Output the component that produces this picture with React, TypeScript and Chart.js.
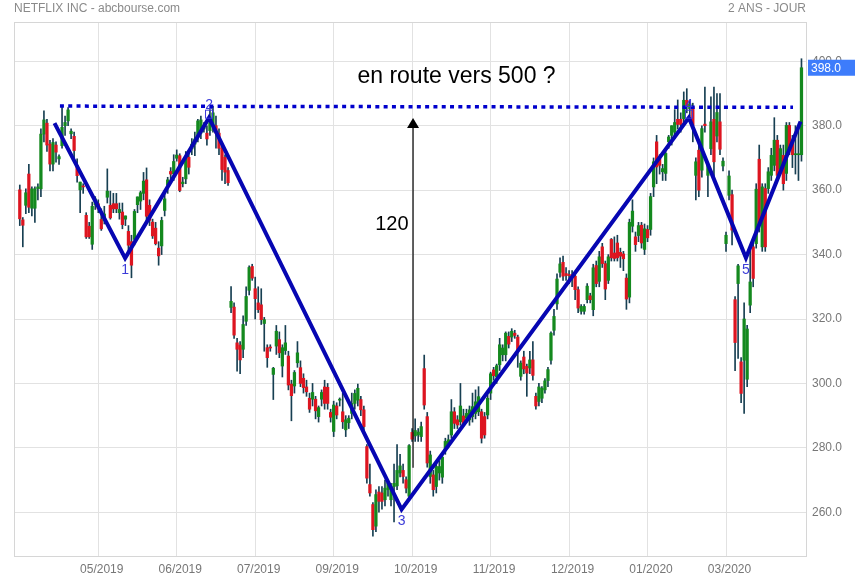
import React, { useEffect, useRef } from 'react';
import { Chart, registerables } from 'chart.js';

Chart.register(...registerables);

// ---- Daily OHLC ----
const opens = [
  360.1, 350.8, 355.3, 365, 354.4, 354.4, 360.5, 360.4, 377.4, 380.8, 374.3, 368.1, 374, 369.7, 373.8, 380, 381.5, 377.5, 376.7, 367.6,
  360.1, 361.2, 352.2, 348.8, 343.2, 355.5, 355.8, 350.9, 350.5, 357.8, 355.3, 355.8, 355.8, 353, 353.2, 351, 347.2, 344, 344.7, 355.5,
  356.6, 359, 363.2, 355.3, 350.1, 348.2, 342, 342.7, 353.7, 361.5, 365.8, 365.1, 369.9, 370.7, 362, 363.5, 370.2, 372.8, 374.3, 376.4,
  377.7, 379, 377.7, 378.5, 380, 380, 377.7, 373, 370.2, 366.1, 323.6, 323.7, 312.6, 311.9, 310.6, 319.3, 328.9, 336.3, 329.4, 325,
  324.4, 318.6, 311.1, 311.2, 302.8, 311.6, 313.6, 305.4, 310.2, 308.5, 299.8, 299.2, 306.4, 304.9, 301.6, 298.9, 295.4, 295.1, 295.1, 289.7,
  295.1, 298.9, 298.8, 291, 285.1, 293, 294.8, 291.2, 285.6, 287.8, 290.7, 293.8, 294.8, 295, 291.8, 280.4, 268.6, 262.4, 255.7, 266.3,
  266, 263.9, 267, 263.9, 268, 268.2, 272.2, 273, 270.1, 265, 284.8, 283.7, 284, 283.5, 304.6, 289.7, 271.1, 271.6, 268, 272.2,
  270.9, 279.4, 281, 284, 291.2, 288.7, 288.1, 289.9, 289.2, 288.7, 289.7, 290.7, 291.2, 291.2, 289.7, 290.2, 297, 304.2, 302, 305.8,
  308.9, 308.9, 314.6, 314.4, 315.6, 314.4, 302.2, 308.2, 305.3, 304.8, 307.3, 296, 294.4, 295.4, 298, 300.9, 307.2, 316.5, 324.7, 334.5,
  337.6, 334.1, 333.8, 333.6, 333.3, 329.1, 322.4, 322.4, 326, 327.2, 322.9, 336.6, 331.7, 342.4, 337.2, 332, 344.7, 340.5, 343.6, 340.7,
  340.2, 332.7, 326.8, 348.8, 345.5, 345.9, 349.1, 341.6, 347.8, 347.8, 361, 375, 369.8, 365.7, 365.2, 375, 377, 378, 382, 382,
  382.2, 387.9, 385.3, 385.8, 364.6, 372.4, 366.2, 380.5, 364.6, 372.9, 382, 376.8, 381.2, 367.5, 343.4, 358.4, 358.6, 326, 331, 306.7,
  307.2, 301.3, 324.3, 342.4, 343.4, 369.6, 342.4, 360.5, 360.5, 364.6, 367.7, 375.5, 366.7, 370.8, 365.2, 380.1, 375.5, 371, 371, 371
];
const highs = [
  361.6, 351.5, 360.4, 368, 361, 361, 362, 379, 384.6, 382, 375.5, 376, 375, 371, 385.9, 383, 385.6, 379, 378, 369.7,
  362.5, 362, 353, 350, 356.3, 358, 357, 354.2, 355, 366.6, 359.7, 359, 359, 356, 356, 352, 349, 346, 354, 357,
  359.7, 365.5, 366.9, 357, 351, 350, 344, 351.6, 360, 364, 367, 371, 372.5, 371.3, 364, 372, 372, 376, 378, 382,
  383, 381, 380, 385, 386, 383, 379, 374, 371, 367, 330.1, 325, 314, 313, 321, 330, 336.5, 337, 333, 330,
  329.4, 320.5, 312, 312, 305, 318, 316, 312, 318, 310, 301, 304, 313, 307, 303, 301, 297, 300, 296, 293,
  298, 301, 300, 292, 294.5, 294, 295.5, 297, 290, 290, 297, 298, 299.8, 296, 293, 281, 275, 263, 267, 268,
  268, 270, 270, 269, 275, 281, 278, 275, 271, 281, 286, 289, 286, 288, 308.8, 291, 279, 273, 275, 276,
  278, 283, 284, 295, 292.5, 290, 300, 292, 292, 293, 297, 298, 299, 292, 291, 297, 303.5, 305, 306, 314,
  312, 316, 316, 317, 316.5, 315, 307, 310, 306, 310, 313, 297, 300, 299, 301.5, 305, 316, 323, 334, 339,
  339.5, 336, 335, 335, 334, 330, 324.5, 324.5, 331, 328, 337, 338, 341, 343.5, 338, 340, 345, 345.5, 346, 342,
  341, 334, 351, 357, 347, 350, 350, 349.5, 349, 359, 370, 377, 371, 368, 372, 377, 379, 385, 388, 384,
  390.5, 391.5, 388, 387, 370, 375, 380, 392, 368, 389, 392, 390, 390, 370, 347, 366, 360, 327, 337, 308,
  325, 318, 341, 345, 362, 374, 362, 362, 367, 373, 382.5, 377, 374, 374, 381, 381, 377, 380, 380, 400.8
];
const lows = [
  349, 342.4, 352.7, 353, 352, 350, 357, 358, 375, 372, 366, 366, 368.7, 368, 373, 377, 380, 376, 370, 362.5,
  353, 359, 345, 345, 341.6, 354, 353, 347.5, 349.5, 356, 351, 353, 353, 351, 348, 349, 341, 332.8, 343, 353,
  354, 357, 350, 349, 345, 343, 336.7, 340, 352, 359, 363, 363, 369, 359.5, 361, 362, 365, 371, 370.7, 375,
  376, 378, 374, 377, 378, 373, 371, 363, 362, 361.5, 322, 314, 303.8, 303, 308, 318, 327.5, 332, 320, 322,
  318.3, 310, 305, 310, 295, 309, 308, 302, 309, 298, 288.4, 297, 305, 299, 297, 296, 291, 293, 289, 288,
  293, 292, 292, 288, 283.5, 289, 293, 286, 283.5, 286, 289, 292, 293, 290, 285, 269, 265, 252.6, 254, 260,
  261, 262, 265, 262, 257, 267, 271, 269, 266, 264, 282, 282, 282, 282, 292, 274, 269, 265, 266, 270,
  269, 278, 280, 283, 286, 286, 287, 287, 288, 287, 288, 289, 290, 281.5, 283, 289, 295, 301, 300, 304,
  307, 307, 311, 313, 314, 305, 301, 303, 296, 303, 301, 292, 293, 294, 297, 299, 306, 315, 323, 333,
  332, 332, 331, 330, 326, 322, 321.5, 321.5, 325, 325, 321, 330, 330, 336, 326, 331, 338, 338, 338, 336,
  335, 323, 325, 347, 341, 344, 342, 340, 344, 346, 358, 362, 365, 363, 363, 373, 374, 376, 379, 378,
  381, 384, 383, 375, 357, 358, 364, 378, 358, 371, 363, 375, 371, 366, 341, 357, 343, 304, 307.8, 294,
  290.7, 299, 322, 330, 342, 347, 341, 341, 359, 363, 366, 363, 365, 360, 363, 371, 367, 365, 363, 369
];
const closes = [
  351.1, 349.1, 359.2, 354.7, 360.4, 360.4, 361, 377.4, 381.8, 374, 368.1, 374.8, 371.8, 370.4, 379.5, 381, 384.9, 378.3, 372.3, 364.5,
  362.5, 361, 345.5, 345.5, 355, 357.3, 354.2, 348, 352.6, 359.7, 351.4, 354.2, 354.2, 354, 349.3, 352, 342.9, 336.7, 353.4, 357.9,
  359.2, 362.8, 351.9, 350.6, 345.8, 343.4, 339.6, 350.6, 357.3, 363.2, 365, 368.9, 370.9, 359.9, 362.5, 370.2, 367.1, 374.3, 375.9, 381.5,
  381.8, 380, 375.9, 381, 384, 377.7, 373, 366.4, 365.6, 362.3, 325.5, 315, 310.6, 307.3, 318.3, 327, 336, 332.7, 326.3, 322.9,
  319.8, 319.8, 308, 311, 304.7, 316.2, 309.5, 311.1, 312.6, 299.5, 296.2, 303.4, 309.5, 300, 298.7, 297.4, 292, 297.2, 291.5, 292.5,
  297.2, 293.8, 293.8, 289.5, 293.3, 290.2, 295, 288.1, 288.7, 289.2, 293.8, 296.9, 298.5, 291.8, 286.6, 270.6, 266, 254.6, 265.5, 263.4,
  263.4, 267.5, 269, 268, 269, 273, 274.4, 271.1, 267.5, 280.7, 282.7, 285.4, 284.9, 286.6, 293.3, 275.3, 277.8, 267, 274.2, 274.2,
  277.1, 282, 282.5, 291.2, 287.6, 287.1, 293, 287.6, 290.7, 291.8, 292.8, 294.3, 295.9, 283, 284, 295.4, 303, 302.4, 305.5, 312,
  311, 315.6, 312.2, 316.2, 314.9, 310.5, 306.3, 304.5, 303.2, 307.3, 302.5, 293, 298.9, 298.5, 300.8, 304.3, 315.6, 320.8, 332.4, 337.1,
  333.3, 333.5, 333.5, 333.4, 329.1, 323.4, 323.9, 323.9, 330.2, 326, 335.9, 331, 339.3, 337.2, 329.3, 339.3, 339, 338.8, 339, 339.5,
  338.7, 326.2, 350, 353.5, 343.1, 349, 343.6, 348, 345.2, 358, 368.8, 367.2, 367.7, 366.7, 371.4, 376.5, 380, 381, 380.4, 380.4,
  387.9, 386.3, 386.8, 380.1, 368.8, 360, 379.1, 380, 367.7, 381.2, 368.8, 384.1, 372.7, 369, 346, 364.4, 347.6, 312.7, 336.5, 296.9,
  320, 316.9, 331.5, 332.6, 360.3, 349.6, 361, 342.4, 365.7, 370.8, 375.5, 364.6, 372.9, 362, 380.1, 372.4, 371, 371.2, 371.3, 398.0
];

// ---- Axis ticks ----
const xTickIndex = [26, 52, 78, 104, 130, 156, 182, 208, 234];
const xTickLabels = ['05/2019', '06/2019', '07/2019', '09/2019', '10/2019', '11/2019', '12/2019', '01/2020', '03/2020'];
const priceTicks = [260, 280, 300, 320, 340, 360, 380, 400];

// ---- Zigzag wave (pivot index, price) ----
const pivotIndex = [11.5, 34.9, 62.7, 126.5, 221.7, 240.6, 258.7];
const pivotPrice = [380.8, 338.9, 382.5, 260.9, 382.5, 339.0, 381.3];
const pivotLabels = ['', '1', '2', '3', '4', '5', ''];

// ---- Resistance (dotted) ----
const resistIndex = [13.3, 256.2];
const resistPrice = [386.1, 385.7];

// ---- Arrow ----
const arrowIndex = 130.3;
const arrowFromPrice = 273.8;
const arrowToPrice = 382.4;

const titleLeft = 'NETFLIX INC - abcbourse.com';
const titleRight = '2 ANS - JOUR';
const mainNote = 'en route vers 500 ?';
const mainNoteIndex = 144.7;
const mainNotePrice = 395.1;
const heightNote = '120';
const heightNoteIndex = 123.3;
const heightNotePrice = 349.2;

const FONT = '"Liberation Sans", Arial, sans-serif';

const overlayPlugin = {
  id: 'overlay',
  beforeDraw(chart: any) {
    const { ctx, width, height } = chart;
    ctx.save();
    ctx.fillStyle = '#ffffff';
    ctx.fillRect(0, 0, width, height);
    ctx.restore();
  },
  afterDatasetsDraw(chart: any) {
    const { ctx } = chart;
    const xs = chart.scales.x;
    const ys = chart.scales.y;
    ctx.save();
    // arrow
    const ax = xs.getPixelForValue(arrowIndex);
    const ay0 = ys.getPixelForValue(arrowFromPrice);
    const ay1 = ys.getPixelForValue(arrowToPrice);
    ctx.strokeStyle = '#111111';
    ctx.lineWidth = 1.3;
    ctx.beginPath();
    ctx.moveTo(ax, ay0);
    ctx.lineTo(ax, ay1 + 8);
    ctx.stroke();
    ctx.fillStyle = '#000000';
    ctx.beginPath();
    ctx.moveTo(ax, ay1);
    ctx.lineTo(ax - 6, ay1 + 10);
    ctx.lineTo(ax + 6, ay1 + 10);
    ctx.closePath();
    ctx.fill();

    // pivot labels
    ctx.fillStyle = '#3b3bd8';
    ctx.font = '14px ' + FONT;
    ctx.textAlign = 'center';
    ctx.textBaseline = 'middle';
    for (let i = 0; i < pivotIndex.length; i++) {
      const lbl = pivotLabels[i];
      if (!lbl) continue;
      const px = xs.getPixelForValue(pivotIndex[i]);
      const py = ys.getPixelForValue(pivotPrice[i]);
      const up = i > 0 && pivotPrice[i] > pivotPrice[i - 1];
      if (up) {
        ctx.fillText(lbl, px, py - 13);
        ctx.strokeStyle = '#3b3bd8';
        ctx.lineWidth = 1;
        ctx.strokeRect(px - 3.5, py - 7.5, 7, 8);
      } else {
        ctx.fillText(lbl, px, py + 12);
      }
    }

    // notes
    ctx.fillStyle = '#000000';
    ctx.font = '23px ' + FONT;
    ctx.fillText(mainNote, xs.getPixelForValue(mainNoteIndex), ys.getPixelForValue(mainNotePrice));
    ctx.font = '20px ' + FONT;
    ctx.fillText(heightNote, xs.getPixelForValue(heightNoteIndex), ys.getPixelForValue(heightNotePrice));
    ctx.restore();
  },
  afterDraw(chart: any) {
    const { ctx, chartArea } = chart;
    const ys = chart.scales.y;
    ctx.save();
    // frame
    ctx.strokeStyle = '#d6d6d6';
    ctx.lineWidth = 1;
    ctx.strokeRect(chartArea.left + 0.5, chartArea.top + 0.5, chartArea.right - chartArea.left, chartArea.bottom - chartArea.top);
    // titles
    ctx.fillStyle = '#8a8a8a';
    ctx.font = '12px ' + FONT;
    ctx.textBaseline = 'middle';
    ctx.textAlign = 'left';
    ctx.fillText(titleLeft, chartArea.left, 9);
    ctx.textAlign = 'right';
    ctx.fillText(titleRight, chartArea.right, 9);
    // last price box
    const last = closes[closes.length - 1];
    const by = ys.getPixelForValue(last);
    ctx.fillStyle = '#3d7cfb';
    ctx.fillRect(chartArea.right + 2, by - 8, chart.width - chartArea.right - 2, 16);
    ctx.fillStyle = '#ffffff';
    ctx.textAlign = 'left';
    ctx.font = '12px ' + FONT;
    ctx.fillText(last.toFixed(1), chartArea.right + 5, by + 0.5);
    ctx.restore();
  },
};

export default function App() {
  const canvasRef = useRef<HTMLCanvasElement | null>(null);

  useEffect(() => {
    document.body.style.margin = '0';
    const canvas = canvasRef.current;
    if (!canvas) return;

    const idx = opens.map((_, i) => i);
    const up = idx.map((i) => closes[i] >= opens[i]);
    const bodyData = idx.map((i) => ({ x: i, y: [Math.min(opens[i], closes[i]), Math.max(opens[i], closes[i])] }));
    const wickData = idx.map((i) => ({
      x: i,
      y: [Math.min(lows[i], opens[i], closes[i]), Math.max(highs[i], opens[i], closes[i])],
    }));

    const chart = new Chart(canvas, {
      type: 'bar',
      data: {
        datasets: [
          {
            type: 'line',
            data: pivotIndex.map((x, i) => ({ x, y: pivotPrice[i] })),
            borderColor: '#0606b2',
            borderWidth: 4,
            pointRadius: 0,
            tension: 0,
            order: 0,
          } as any,
          {
            type: 'line',
            data: resistIndex.map((x, i) => ({ x, y: resistPrice[i] })),
            borderColor: '#0000cc',
            borderWidth: 3.5,
            borderDash: [4, 4.3],
            borderCapStyle: 'butt',
            pointRadius: 0,
            order: 1,
          } as any,
          {
            type: 'bar',
            data: bodyData,
            backgroundColor: up.map((u) => (u ? '#14891e' : '#dd1520')),
            borderWidth: 0,
            barThickness: 2.6,
            minBarLength: 1,
            grouped: false,
            order: 2,
          } as any,
          {
            type: 'bar',
            data: wickData,
            backgroundColor: '#173f52',
            borderWidth: 0,
            barThickness: 1,
            grouped: false,
            order: 3,
          } as any,
        ],
      },
      options: {
        responsive: false,
        animation: false,
        events: [],
        layout: { padding: { left: 14, top: 22, right: 0, bottom: 0 } },
        plugins: { legend: { display: false }, tooltip: { enabled: false } },
        scales: {
          x: {
            type: 'linear',
            min: -1.92,
            max: 260.5,
            offset: false,
            border: { display: false },
            grid: { color: '#e2e2e2', lineWidth: 1, drawTicks: false, offset: false },
            afterBuildTicks: (scale: any) => {
              scale.ticks = xTickIndex.map((v) => ({ value: v }));
            },
            afterFit: (scale: any) => {
              scale.height = 24;
            },
            ticks: {
              autoSkip: false,
              maxRotation: 0,
              padding: 6,
              labelOffset: 3.5,
              color: '#777777',
              font: { family: FONT, size: 12 },
              callback: (value: any) => {
                const k = xTickIndex.indexOf(Number(value));
                return k >= 0 ? xTickLabels[k] : '';
              },
            },
          },
          y: {
            type: 'linear',
            position: 'right',
            min: 246.43,
            max: 412.2,
            border: { display: false },
            grid: { color: '#e2e2e2', lineWidth: 1, drawTicks: false },
            afterBuildTicks: (scale: any) => {
              scale.ticks = priceTicks.map((v) => ({ value: v }));
            },
            afterFit: (scale: any) => {
              scale.width = 49;
            },
            ticks: {
              padding: 6,
              color: '#777777',
              font: { family: FONT, size: 12 },
              callback: (value: any) => Number(value).toFixed(1),
            },
          },
        },
      } as any,
      plugins: [overlayPlugin],
    });

    return () => {
      chart.destroy();
    };
  }, []);

  return <canvas ref={canvasRef} width={855} height={580} style={{ display: 'block' }} />;
}
